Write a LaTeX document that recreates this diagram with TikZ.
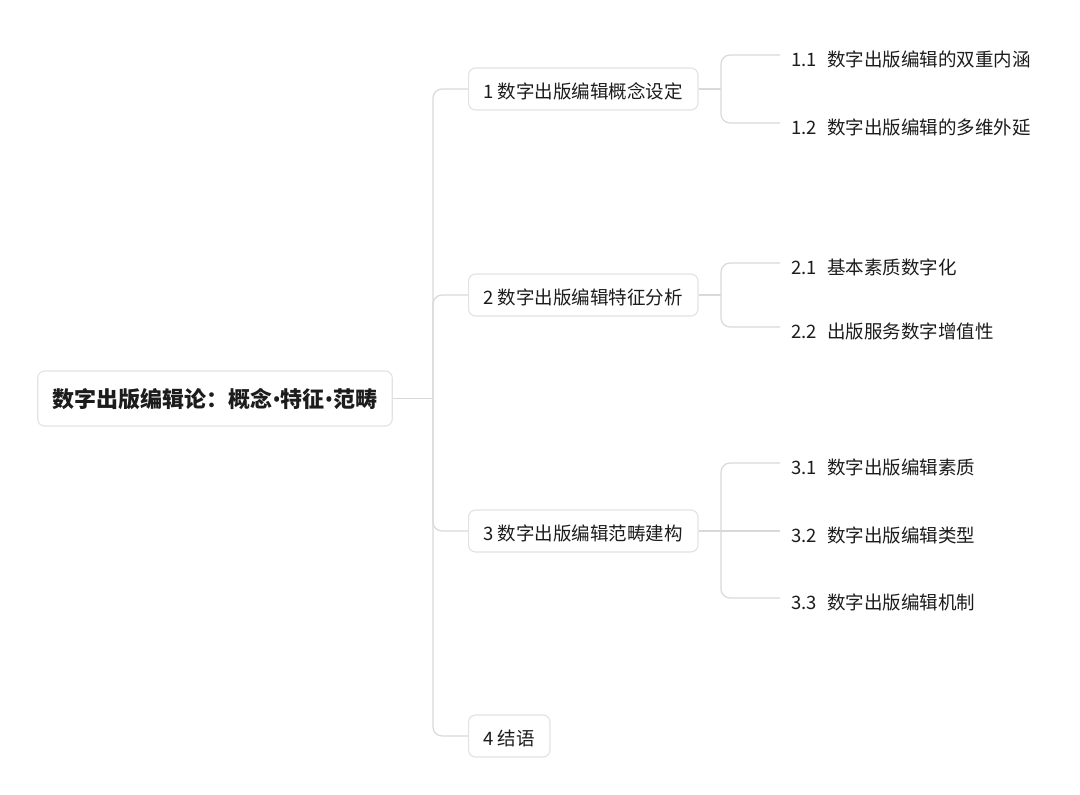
\documentclass[tikz,border=0pt]{standalone}
\usepackage{fontspec}
\setmainfont{Noto Sans CJK SC}
\newfontfamily\dotfont{Noto Sans}
\usepackage{xcolor}
\definecolor{map-line}{HTML}{D9D9D9}
\definecolor{map-border}{HTML}{E2E2E2}
\definecolor{map-text}{HTML}{1C1C1C}
\usepackage{tikz}
\usetikzlibrary{positioning,calc}

\newcommand{\mapdot}{{\dotfont\bfseries •}}

\begin{document}
\begin{tikzpicture}[x=1pt, y=-1pt,
  topic/.style={rectangle, rounded corners=7pt, draw=map-border, line width=1.1pt, fill=white,
                inner xsep=15pt, minimum height=55pt, text height=21pt, text depth=4pt,
                text=map-text, font=\fontsize{22}{26}\selectfont\bfseries},
  branch/.style={rectangle, rounded corners=7pt, draw=map-border, line width=1.1pt, fill=white,
                 inner xsep=15pt, minimum height=42pt, text height=20pt, text depth=2pt,
                 text=map-text, font=\fontsize{18.5}{22}\selectfont},
  leaf/.style={anchor=west, inner xsep=11pt, inner ysep=0pt, text height=25pt, text depth=3pt,
               text=map-text, font=\fontsize{18.5}{22}\selectfont},
  link/.style={draw=map-line, line width=1.2pt, rounded corners=9pt}]

  \useasboundingbox (0,0) rectangle (1080,795);

  % root
  \node[topic] (root) at (215,398.5) {数字出版编辑论：概念\mapdot 特征\mapdot 范畴};
  \coordinate (trunk) at (433,398.5);

  % first level
  \node[branch, anchor=west] (c1) at (468,89) {1 数字出版编辑概念设定};
  \node[branch, anchor=west] (c2) at (468,295) {2 数字出版编辑特征分析};
  \node[branch, anchor=west] (c3) at (468,531) {3 数字出版编辑范畴建构};
  \node[branch, anchor=west] (c4) at (468,736) {4 结语};

  % second level
  \node[leaf] (l11) at (780,55) {1.1\hspace{0.55em}数字出版编辑的双重内涵};
  \node[leaf] (l12) at (780,123) {1.2\hspace{0.55em}数字出版编辑的多维外延};
  \node[leaf] (l21) at (780,263) {2.1\hspace{0.55em}基本素质数字化};
  \node[leaf] (l22) at (780,327) {2.2\hspace{0.55em}出版服务数字增值性};
  \node[leaf] (l31) at (780,463) {3.1\hspace{0.55em}数字出版编辑素质};
  \node[leaf] (l32) at (780,531) {3.2\hspace{0.55em}数字出版编辑类型};
  \node[leaf] (l33) at (780,598) {3.3\hspace{0.55em}数字出版编辑机制};

  \coordinate (j1) at (721,89);
  \coordinate (j2) at (721,295);
  \coordinate (j3) at (721,531);

  % connectors
  \draw[link] (root.east) -- (trunk);
  \draw[link] (trunk) |- (c1.west);
  \draw[link] (trunk) |- (c2.west);
  \draw[link] (trunk) |- (c3.west);
  \draw[link] (trunk) |- (c4.west);

  \draw[link] (c1.east) -- (j1);
  \draw[link] (j1) |- (l11.west);
  \draw[link] (j1) |- (l12.west);
  \draw[link] (c2.east) -- (j2);
  \draw[link] (j2) |- (l21.west);
  \draw[link] (j2) |- (l22.west);
  \draw[link] (c3.east) -- (j3);
  \draw[link] (j3) |- (l31.west);
  \draw[link] (j3) -- (l32.west);
  \draw[link] (j3) |- (l33.west);

\end{tikzpicture}
\end{document}
